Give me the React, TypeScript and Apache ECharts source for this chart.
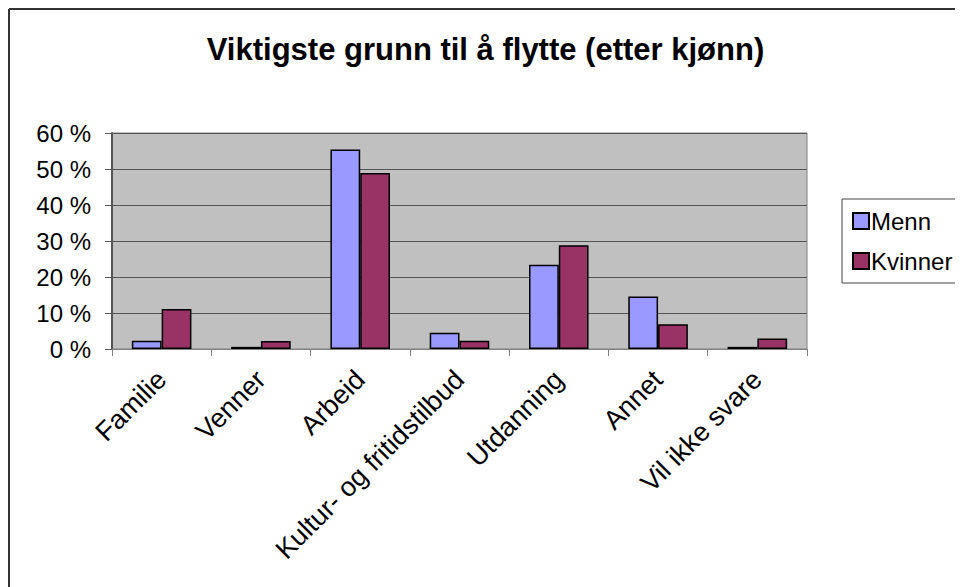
import React, { useEffect, useRef } from "react";
import * as echarts from "echarts";

const categories = ["Familie", "Venner", "Arbeid", "Kultur- og fritidstilbud", "Utdanning", "Annet", "Vil ikke svare"];
const menn = [2.3, 0.6, 55.4, 4.5, 23.4, 14.6, 0.6];
const kvinner = [11.1, 2.2, 48.9, 2.3, 28.8, 6.9, 2.9];
const seriesNames = ["Menn", "Kvinner"];
const titleText = "Viktigste grunn til å flytte (etter kjønn)";

const W = 955;
const H = 579;

export default function App() {
  const ref = useRef<HTMLDivElement>(null);
  useEffect(() => {
    if (!ref.current) return;
    const chart = echarts.init(ref.current, null, { renderer: "svg" });
    const font = "Liberation Sans, Arial, sans-serif";
    chart.setOption({
      animation: false,
      backgroundColor: "#ffffff",
      textStyle: { fontFamily: font },
      title: {
        text: titleText,
        left: "center",
        top: 21,
        textStyle: { fontFamily: font, fontSize: 31, fontWeight: "bold", color: "#000" },
      },
      graphic: [
        { type: "line", shape: { x1: 1, y1: 1, x2: W, y2: 1 }, style: { stroke: "#333", lineWidth: 2 } },
        { type: "line", shape: { x1: 1, y1: 1, x2: 1, y2: H }, style: { stroke: "#333", lineWidth: 2 } },
      ],
      legend: {
        orient: "vertical",
        left: 834,
        top: 191,
        data: seriesNames,
        borderColor: "#444",
        borderWidth: 1,
        padding: [10, 40, 10, 10],
        itemGap: 16,
        itemWidth: 16,
        itemHeight: 16,
        icon: "rect",
        textStyle: { fontFamily: font, fontSize: 24, color: "#000", padding: [0, 0, 0, -3] },
      },
      grid: {
        left: 104,
        top: 125,
        width: 695,
        height: 216,
        show: true,
        backgroundColor: "#C0C0C0",
        borderColor: "#808080",
        borderWidth: 1,
      },
      xAxis: {
        type: "category",
        data: categories,
        axisLine: { lineStyle: { color: "#808080", width: 1 } },
        axisTick: { show: true, length: 7, lineStyle: { color: "#808080" } },
        axisLabel: {
          rotate: 45,
          fontFamily: font,
          fontSize: 27,
          color: "#000",
          margin: 26,
          interval: 0,
        },
      },
      yAxis: {
        type: "value",
        min: 0,
        max: 60,
        interval: 10,
        axisLine: { show: true, lineStyle: { color: "#555", width: 2 } },
        axisTick: { show: true, length: 7, lineStyle: { color: "#555" } },
        splitLine: { show: true, lineStyle: { color: "#555", width: 1 } },
        axisLabel: {
          formatter: "{value} %",
          fontFamily: font,
          fontSize: 24,
          color: "#000",
          margin: 21,
        },
      },
      series: [
        {
          name: seriesNames[0],
          type: "bar",
          data: menn,
          barGap: "0%",
          barCategoryGap: "40%",
          itemStyle: { color: "#9999FF", borderColor: "#000", borderWidth: 1.5 },
        },
        {
          name: seriesNames[1],
          type: "bar",
          data: kvinner,
          barGap: "0%",
          barCategoryGap: "40%",
          itemStyle: { color: "#993366", borderColor: "#000", borderWidth: 1.5 },
        },
      ],
    });
    return () => chart.dispose();
  }, []);
  return <div ref={ref} style={{ width: W, height: H }} />;
}
